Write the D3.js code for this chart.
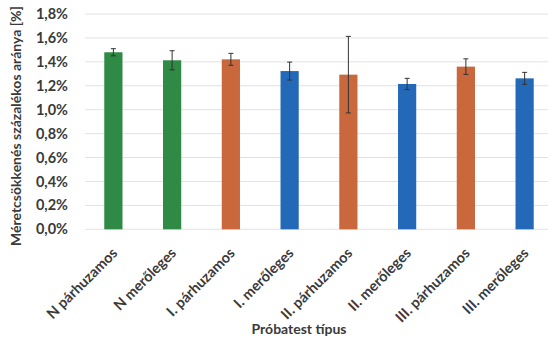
<!DOCTYPE html>
<html>
<head>
<meta charset="utf-8">
<script src="https://cdn.jsdelivr.net/npm/d3@7"></script>
<style>
  html, body { margin: 0; padding: 0; background: #fff; }
  svg text { font-family: Lato, "Open Sans", sans-serif; font-weight: 700; fill: #3a3a3a; }
</style>
</head>
<body>
<svg id="chart" width="550" height="342"></svg>
<script>
const categories = ["N párhuzamos", "N merőleges", "I. párhuzamos", "I. merőleges",
                    "II. párhuzamos", "II. merőleges", "III. párhuzamos", "III. merőleges"];
const values = [1.48, 1.413, 1.421, 1.323, 1.293, 1.215, 1.36, 1.262];
const errors = [0.03, 0.08, 0.05, 0.075, 0.32, 0.047, 0.065, 0.05];
const groups = ["N", "N", "p", "m", "p", "m", "p", "m"];
const yTicks = [0, 0.2, 0.4, 0.6, 0.8, 1.0, 1.2, 1.4, 1.6, 1.8];

const colors = { N: "#2e8a45", p: "#c8683c", m: "#2469b8" };

const svg = d3.select("#chart");
const x = d3.scaleBand().domain(categories).range([84, 554]).paddingInner(0.69).paddingOuter(0.345);
const y = d3.scaleLinear().domain([0, 1.8]).range([229.3, 14]);

// grid lines
svg.append("g").selectAll("line").data(yTicks).join("line")
  .attr("x1", 85).attr("x2", 548)
  .attr("y1", d => y(d)).attr("y2", d => y(d))
  .attr("stroke", "#e2e2e2").attr("stroke-width", 1);

// y tick labels
const fmt = d => d.toFixed(1).replace(".", ",") + "%";
svg.append("g").selectAll("text").data(yTicks).join("text")
  .attr("x", 68).attr("y", d => y(d)).attr("dy", "0.35em")
  .attr("text-anchor", "end").attr("font-size", 14.5)
  .text(fmt);

// bars
svg.append("g").selectAll("rect").data(categories).join("rect")
  .attr("x", d => x(d)).attr("width", x.bandwidth())
  .attr("y", (d, i) => y(values[i]))
  .attr("height", (d, i) => y(0) - y(values[i]))
  .attr("fill", (d, i) => colors[groups[i]]);

// error bars
const eb = svg.append("g").attr("stroke", "#333").attr("stroke-width", 1);
categories.forEach((c, i) => {
  const cx = x(c) + x.bandwidth() / 2;
  const hi = y(values[i] + errors[i]), lo = y(values[i] - errors[i]);
  eb.append("line").attr("x1", cx).attr("x2", cx).attr("y1", hi).attr("y2", lo);
  eb.append("line").attr("x1", cx - 2.5).attr("x2", cx + 2.5).attr("y1", hi).attr("y2", hi);
  eb.append("line").attr("x1", cx - 2.5).attr("x2", cx + 2.5).attr("y1", lo).attr("y2", lo);
});

// category labels, rotated
svg.append("g").selectAll("text").data(categories).join("text")
  .attr("transform", d => `translate(${x(d) + x.bandwidth() / 2 + 5},${254}) rotate(-45)`)
  .attr("text-anchor", "end").attr("font-size", 14.5)
  .text(d => d);

// axis titles
svg.append("text").attr("x", 299).attr("y", 334)
  .attr("text-anchor", "middle").attr("font-size", 14)
  .text("Próbatest típus");

svg.append("text")
  .attr("transform", "translate(21,126) rotate(-90)")
  .attr("text-anchor", "middle").attr("font-size", 14)
  .text("Méretcsökkenés százalékos aránya [%]");
</script>
</body>
</html>
